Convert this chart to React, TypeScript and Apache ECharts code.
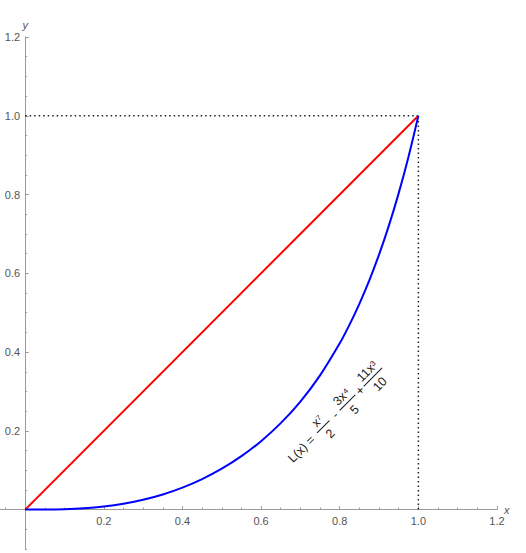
import React, { useEffect, useRef } from "react";
import * as echarts from "echarts";

const majorTicks = [0.2, 0.4, 0.6, 0.8, 1.0, 1.2];
const xMinorTicks = [-0.05, 0.05, 0.1, 0.15, 0.25, 0.3, 0.35, 0.45, 0.5, 0.55, 0.65, 0.7, 0.75, 0.85, 0.9, 0.95, 1.05, 1.1, 1.15];
const yMinorTicks = [-0.1, -0.05, 0.05, 0.1, 0.15, 0.25, 0.3, 0.35, 0.45, 0.5, 0.55, 0.65, 0.7, 0.75, 0.85, 0.9, 0.95, 1.05, 1.1, 1.15];

const curveX = [0, 0.05, 0.1, 0.15, 0.2, 0.25, 0.3, 0.35, 0.4, 0.45, 0.5, 0.55, 0.6, 0.65, 0.7, 0.75, 0.8, 0.825, 0.85, 0.875, 0.9, 0.925, 0.95, 0.975, 1.0];
const curveY = [0, 0.00013, 0.00104, 0.00341, 0.00785, 0.01487, 0.02495, 0.03848, 0.05586, 0.0775, 0.10391, 0.13572, 0.17384, 0.2195, 0.27442, 0.34096, 0.4223, 0.46978, 0.52262, 0.58155, 0.64739, 0.72105, 0.80358, 0.89613, 1.0];
const lineX = [0, 1];
const lineY = [0, 1];
const hDotX = [0, 1];
const hDotY = [1, 1];
const vDotX = [1, 1];
const vDotY = [0, 1];

// data position of the "=" sign of the formula label
const labelAnchor = [0.7244, 0.1767];

const X_MIN = -0.064;
const X_MAX = 1.2;
const Y_MIN = -0.1;
const Y_MAX = 1.2;

const axisColor = "#9a9a9a";
const labelColor = "#555";
const fontName = "Liberation Sans";

function zip(a: number[], b: number[]) {
  return a.map((v, i) => [v, b[i]]);
}

const W = 526;
const H = 553;
const G = { left: 0, right: 29, top: 37, bottom: 4 };

export default function App() {
  const ref = useRef<HTMLDivElement>(null);
  useEffect(() => {
    if (!ref.current) return;
    const chart = echarts.init(ref.current, undefined, { renderer: "svg" });
    const gw = W - G.left - G.right;
    const gh = H - G.top - G.bottom;
    const xOff = -((0 - Y_MIN) / (Y_MAX - Y_MIN)) * gh;
    const yOff = -((0 - X_MIN) / (X_MAX - X_MIN)) * gw;
    const baseX = {
      type: "value",
      min: X_MIN,
      max: X_MAX,
      position: "bottom",
      offset: xOff,
      splitLine: { show: false },
    };
    const baseY = {
      type: "value",
      min: Y_MIN,
      max: Y_MAX,
      position: "left",
      offset: yOff,
      splitLine: { show: false },
    };
    chart.setOption({
      animation: false,
      grid: { ...G, containLabel: false, outerBoundsMode: "none" },
      xAxis: [
        {
          ...baseX,
          name: "x",
          nameLocation: "end",
          nameGap: 7,
          nameTextStyle: { color: labelColor, fontStyle: "italic", fontSize: 11, fontFamily: fontName },
          axisLine: { show: true, onZero: false, lineStyle: { color: axisColor, width: 1 } },
          axisTick: { show: true, inside: true, length: 3.5, customValues: majorTicks, lineStyle: { color: axisColor } },
          axisLabel: {
            show: true,
            customValues: majorTicks,
            margin: 6,
            color: labelColor,
            fontSize: 11,
            fontFamily: fontName,
            formatter: (v: number) => v.toFixed(1),
          },
        },
        {
          ...baseX,
          axisLine: { show: false, onZero: false },
          axisTick: { show: true, inside: true, length: 2, customValues: xMinorTicks, lineStyle: { color: axisColor } },
          axisLabel: { show: false },
        },
      ],
      yAxis: [
        {
          ...baseY,
          name: "y",
          nameLocation: "end",
          nameGap: 7,
          nameTextStyle: { color: labelColor, fontStyle: "italic", fontSize: 11, fontFamily: fontName },
          axisLine: { show: true, onZero: false, lineStyle: { color: axisColor, width: 1 } },
          axisTick: { show: true, inside: true, length: 3.5, customValues: majorTicks, lineStyle: { color: axisColor } },
          axisLabel: {
            show: true,
            customValues: majorTicks,
            margin: 5,
            color: labelColor,
            fontSize: 11,
            fontFamily: fontName,
            formatter: (v: number) => v.toFixed(1),
          },
        },
        {
          ...baseY,
          axisLine: { show: false, onZero: false },
          axisTick: { show: true, inside: true, length: 2, customValues: yMinorTicks, lineStyle: { color: axisColor } },
          axisLabel: { show: false },
        },
      ],
      series: [
        {
          type: "line",
          data: zip(hDotX, hDotY),
          showSymbol: false,
          lineStyle: { color: "#222", width: 1.5, type: [1.5, 3] },
        },
        {
          type: "line",
          data: zip(vDotX, vDotY),
          showSymbol: false,
          lineStyle: { color: "#222", width: 1.5, type: [1.5, 3] },
        },
        {
          type: "line",
          data: zip(lineX, lineY),
          showSymbol: false,
          lineStyle: { color: "#ff0000", width: 2 },
        },
        {
          type: "line",
          data: zip(curveX, curveY),
          showSymbol: false,
          smooth: 0.3,
          lineStyle: { color: "#0000ff", width: 2 },
        },
      ],
    });

    const p = chart.convertToPixel({ xAxisIndex: 0, yAxisIndex: 0 }, labelAnchor) as number[];
    const fs = 12.5;
    const txt = (text: string, x: number, y: number, align: string, va: string) => ({
      type: "text",
      x,
      y,
      style: {
        text,
        fill: "#1a1a1a",
        fontSize: fs,
        fontFamily: fontName,
        align,
        verticalAlign: va,
      },
    });
    const bar = (x1: number, x2: number) => ({
      type: "line",
      shape: { x1, y1: 0, x2, y2: 0 },
      style: { stroke: "#1a1a1a", lineWidth: 1 },
    });
    const frac = (num: string, den: string, a: number, b: number) => {
      const c = (a + b) / 2;
      return [txt(num, c, -1.5, "center", "bottom"), bar(a, b), txt(den, c, 3.5, "center", "top")];
    };
    const children: any[] = [
      txt("L(x) =", 3.8, 0.5, "right", "middle"),
      ...frac("x⁷", "2", 10, 27.5),
      txt("-", 35.4, 0, "center", "middle"),
      ...frac("3x⁴", "5", 42, 64),
      txt("+", 70.5, 0.5, "center", "middle"),
      ...frac("11x³", "10", 76, 102),
    ];

    chart.setOption({
      graphic: [
        {
          type: "group",
          x: p[0],
          y: p[1],
          rotation: (45 * Math.PI) / 180,
          children,
        },
      ],
    });

    return () => chart.dispose();
  }, []);
  return (
    <div
      ref={ref}
      style={{ position: "absolute", left: 0, top: 0, width: W, height: H }}
    />
  );
}
